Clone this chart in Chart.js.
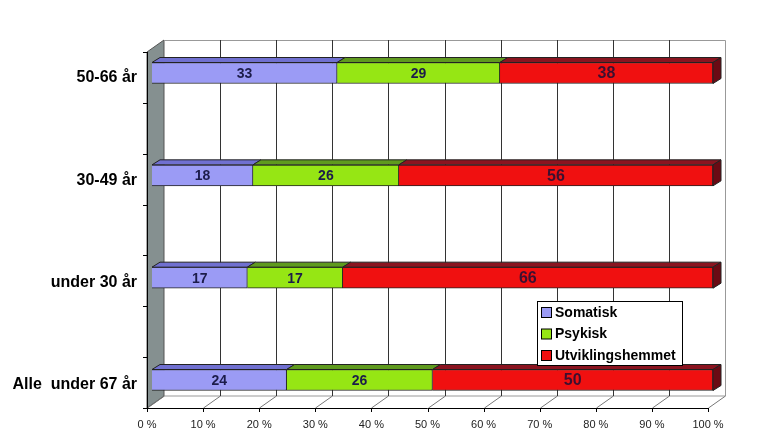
<!DOCTYPE html>
<html>
<head>
<meta charset="utf-8">
<script src="https://cdn.jsdelivr.net/npm/chart.js@4"></script>
<style>
  html, body { margin: 0; padding: 0; background: #fff; }
  #wrap { width: 768px; height: 442px; }
</style>
</head>
<body>
<div id="wrap"><canvas id="canvas"></canvas></div>
<script>
var categories = ['50-66 år', '30-49 år', 'under 30 år', 'Alle  under 67 år'];
var somatisk = [33, 18, 17, 24];
var psykisk = [29, 26, 17, 26];
var utviklingshemmet = [38, 56, 66, 50];
var xTicks = [0, 10, 20, 30, 40, 50, 60, 70, 80, 90, 100];

var faceColors = ['#9B9BF5', '#96E614', '#F01010'];
var topColors = ['#7070D0', '#5F9A1E', '#8A1420'];
var endColor = '#6A0A14';

// walls, floor and grid behind the bars
var backdrop = {
    id: 'backdrop',
    beforeDatasetsDraw: function (chart) {
        var ctx = chart.ctx, a = chart.chartArea, xs = chart.scales.x;
        var dx = 17, dy = 12, shift = -5;
        var floorY = a.bottom + 28, topY = a.top - 33;
        var x0 = xs.getPixelForValue(0) + shift, x1 = xs.getPixelForValue(100) + shift;
        ctx.save();
        // left wall
        ctx.fillStyle = '#859090';
        ctx.beginPath();
        ctx.moveTo(x0, topY + dy);
        ctx.lineTo(x0 + dx, topY);
        ctx.lineTo(x0 + dx, floorY - dy);
        ctx.lineTo(x0, floorY);
        ctx.closePath();
        ctx.fill();
        ctx.strokeStyle = '#555';
        ctx.lineWidth = 1;
        ctx.stroke();
        // back wall border
        ctx.strokeStyle = '#999';
        ctx.beginPath();
        ctx.moveTo(x0 + dx, topY + 0.5);
        ctx.lineTo(x1 + dx + 0.5, topY + 0.5);
        ctx.lineTo(x1 + dx + 0.5, floorY - dy);
        ctx.lineTo(x0 + dx, floorY - dy);
        ctx.stroke();
        // floor edges and diagonals
        xTicks.forEach(function (v) {
            var fx = Math.round(xs.getPixelForValue(v) + shift) + 0.5;
            ctx.strokeStyle = '#777';
            ctx.beginPath();
            ctx.moveTo(fx, floorY);
            ctx.lineTo(fx + dx, floorY - dy);
            ctx.stroke();
            if (v > 0 && v < 100) {
                ctx.strokeStyle = '#333';
                ctx.beginPath();
                ctx.moveTo(fx + dx, topY);
                ctx.lineTo(fx + dx, floorY - dy);
                ctx.stroke();
            }
            ctx.strokeStyle = '#000';
            ctx.beginPath();
            ctx.moveTo(fx, floorY);
            ctx.lineTo(fx, floorY + 4);
            ctx.stroke();
        });
        // front axis
        ctx.strokeStyle = '#000';
        ctx.beginPath();
        ctx.moveTo(x0, floorY + 0.5);
        ctx.lineTo(x1, floorY + 0.5);
        ctx.stroke();
        // left axis with ticks
        ctx.beginPath();
        ctx.moveTo(x0 + 0.5, topY + dy);
        ctx.lineTo(x0 + 0.5, floorY);
        var n = 7;
        for (var i = 0; i <= n; i++) {
            var ty = Math.round(topY + dy + (floorY - topY - dy) * i / n) + 0.5;
            ctx.moveTo(x0 - 4, ty);
            ctx.lineTo(x0, ty);
        }
        ctx.stroke();
        ctx.restore();
    },
    afterDatasetsDraw: function (chart) {
        var ctx = chart.ctx;
        var ddx = 8, ddy = 5;
        ctx.save();
        chart.data.datasets.forEach(function (ds, di) {
            var meta = chart.getDatasetMeta(di);
            meta.data.forEach(function (bar, i) {
                var p = bar.getProps(['x', 'y', 'base', 'height'], true);
                var top = p.y - p.height / 2, bottom = p.y + p.height / 2;
                ctx.strokeStyle = '#222';
                ctx.lineWidth = 1;
                ctx.fillStyle = topColors[di];
                ctx.beginPath();
                ctx.moveTo(p.base, top);
                ctx.lineTo(p.base + ddx, top - ddy);
                ctx.lineTo(p.x + ddx, top - ddy);
                ctx.lineTo(p.x, top);
                ctx.closePath();
                ctx.fill();
                ctx.stroke();
                if (di === chart.data.datasets.length - 1) {
                    ctx.fillStyle = endColor;
                    ctx.beginPath();
                    ctx.moveTo(p.x, top);
                    ctx.lineTo(p.x + ddx, top - ddy);
                    ctx.lineTo(p.x + ddx, bottom - ddy);
                    ctx.lineTo(p.x, bottom);
                    ctx.closePath();
                    ctx.fill();
                    ctx.stroke();
                }
                // value label
                var big = di === 2;
                ctx.font = 'bold ' + (big ? 16 : 14) + 'px "Liberation Sans", Arial, sans-serif';
                ctx.fillStyle = big ? '#3C1030' : '#1C1C4A';
                ctx.textAlign = 'center';
                ctx.textBaseline = 'middle';
                ctx.fillText(String(ds.data[i]), (p.base + p.x) / 2, p.y + 1);
            });
        });
        ctx.restore();
    },
    afterDraw: function (chart) {
        var ctx = chart.ctx;
        var bx = 537, by = 301, bw = 145, bh = 64;
        ctx.save();
        ctx.fillStyle = '#fff';
        ctx.fillRect(bx, by, bw, bh);
        ctx.strokeStyle = '#000';
        ctx.lineWidth = 1;
        ctx.strokeRect(bx + 0.5, by + 0.5, bw, bh);
        ctx.font = 'bold 14px "Liberation Sans", Arial, sans-serif';
        ctx.textBaseline = 'middle';
        ctx.textAlign = 'left';
        chart.data.datasets.forEach(function (ds, i) {
            var cy = by + 12 + i * 21.5;
            ctx.fillStyle = ds.backgroundColor;
            ctx.fillRect(bx + 4.5, cy - 5.5, 10, 10);
            ctx.strokeStyle = '#000';
            ctx.strokeRect(bx + 4.5, cy - 5.5, 10, 10);
            ctx.fillStyle = '#000';
            ctx.fillText(ds.label, bx + 18, cy);
        });
        ctx.restore();
    }
};

new Chart(document.getElementById('canvas'), {
    type: 'bar',
    data: {
        labels: categories,
        datasets: [
            {label: 'Somatisk', data: somatisk, backgroundColor: faceColors[0]},
            {label: 'Psykisk', data: psykisk, backgroundColor: faceColors[1]},
            {label: 'Utviklingshemmet', data: utviklingshemmet, backgroundColor: faceColors[2]}
        ].map(function (d) {
            d.borderColor = '#222';
            d.borderWidth = 1;
            d.barThickness = 21;
            d.clip = false;
            return d;
        })
    },
    options: {
        indexAxis: 'y',
        responsive: true,
        maintainAspectRatio: false,
        animation: false,
        layout: {padding: {top: 73, right: 55, bottom: 0, left: 0}},
        plugins: {
            legend: {display: false},
            tooltip: {enabled: false}
        },
        scales: {
            x: {
                stacked: true,
                min: 0,
                max: 100,
                afterBuildTicks: function (scale) {
                    scale.ticks = xTicks.map(function (v) { return {value: v}; });
                },
                afterFit: function (scale) { scale.height = 62; },
                grid: {display: false, drawTicks: false},
                border: {display: false},
                ticks: {
                    padding: 38,
                    labelOffset: -5,
                    maxRotation: 0,
                    autoSkip: false,
                    color: '#222',
                    font: {family: '"Liberation Sans", Arial, sans-serif', size: 11},
                    callback: function (v) { return v + ' %'; }
                }
            },
            y: {
                stacked: true,
                offset: false,
                afterFit: function (scale) { scale.width = 152; },
                grid: {display: false, drawTicks: false},
                border: {display: false},
                ticks: {
                    padding: 15,
                    labelOffset: 5,
                    color: '#000',
                    font: {family: '"Liberation Sans", Arial, sans-serif', size: 16, weight: 'bold'}
                }
            }
        }
    },
    plugins: [backdrop]
});
</script>
</body>
</html>
